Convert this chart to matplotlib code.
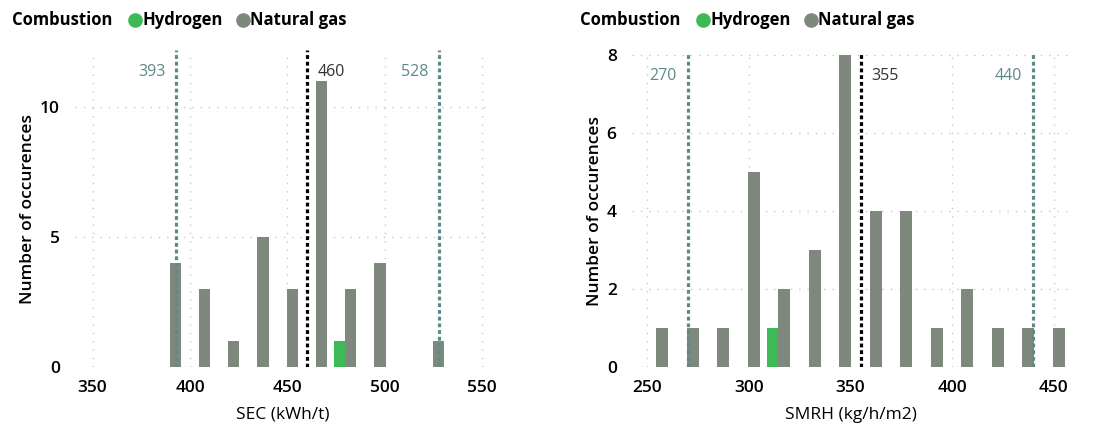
import numpy as np
import matplotlib.pyplot as plt
from matplotlib.lines import Line2D

plt.rcParams['font.family'] = ['Open Sans', 'DejaVu Sans']

# SEC histogram (bin centres, counts)
sec_bins = [392.5, 407.5, 422.5, 437.5, 452.5, 467.5, 482.5, 497.5, 512.5, 527.5]
sec_gas = [4, 3, 1, 5, 3, 11, 3, 4, 0, 1]
sec_h2 = [0, 0, 0, 0, 0, 0, 1, 0, 0, 0]
sec_lines = [393, 460, 528]
sec_ticks = [350, 400, 450, 500, 550]

# SMRH histogram
smrh_bins = [257.5, 272.5, 287.5, 302.5, 317.5, 332.5, 347.5, 362.5, 377.5,
             392.5, 407.5, 422.5, 437.5, 452.5]
smrh_gas = [1, 1, 1, 5, 2, 3, 8, 4, 4, 1, 2, 1, 1, 1]
smrh_h2 = [0, 0, 0, 0, 1, 0, 0, 0, 0, 0, 0, 0, 0, 0]
smrh_lines = [270, 355, 440]
smrh_ticks = [250, 300, 350, 400, 450]

gas_col = '#7f887c'
h2_col = '#3dba55'
teal = '#5d8a87'
W, H = 1097, 425

fig = plt.figure(figsize=(W / 100, H / 100), dpi=100)


def px(x0, y_top, x1, y_bot):
    return [x0 / W, 1 - y_bot / H, (x1 - x0) / W, (y_bot - y_top) / H]


def draw(ax, bins, gas, h2, lines, xticks, xlim, ylim, yticks, xlabel, width=5.8):
    bins = np.array(bins)
    h2 = np.array(h2)
    ax.bar(bins, gas, width=width, color=gas_col, zorder=2)
    m = h2 > 0
    ax.bar(bins[m] - width, h2[m], width=width, color=h2_col, zorder=2)
    ax.set_xticks(xticks)
    ax.set_yticks(yticks)
    ax.set_xlim(*xlim)
    ax.set_ylim(*ylim)
    ax.grid(True, color='#c9c9c9', linestyle=(0, (1, 5)), linewidth=1, zorder=0)
    for s in ax.spines.values():
        s.set_visible(False)
    ax.tick_params(length=0, labelsize=12.5)
    ax.tick_params(axis='x', pad=9)
    ax.tick_params(axis='y', pad=11)
    for lab in ax.get_xticklabels() + ax.get_yticklabels():
        lab.set_fontweight('semibold')
    for i, v in enumerate(lines):
        mid = i == 1
        ax.axvline(v, color='black' if mid else teal, linestyle=(0, (1.2, 0.9)),
                   linewidth=2.3, zorder=3)
        ax.annotate(str(v), xy=(v, 0.93), xycoords=('data', 'axes fraction'),
                    xytext=(8 if mid else -8, 0), textcoords='offset points',
                    ha='left' if mid else 'right', va='center', fontsize=11.5,
                    color='#333333' if mid else teal)
    ax.set_xlabel(xlabel, fontsize=12.5, labelpad=8)
    ax.set_ylabel('Number of occurences', fontsize=12.5, fontweight='semibold', labelpad=3)


ax1 = fig.add_axes(px(75, 50, 490, 367))
draw(ax1, sec_bins, sec_gas, sec_h2, sec_lines, sec_ticks, (341, 554), (0, 12.2),
     [0, 5, 10], 'SEC (kWh/t)')

ax2 = fig.add_axes(px(632, 54, 1070, 367))
draw(ax2, smrh_bins, smrh_gas, smrh_h2, smrh_lines, smrh_ticks, (242.6, 458), (0, 8.03),
     [0, 2, 4, 6, 8], 'SMRH (kg/h/m2)')

# legends
for x0 in (12, 580):
    y = 1 - 20 / H
    fig.text(x0 / W, y, 'Combustion', fontsize=12, fontweight='bold', va='center')
    for dx, col, lab in ((123, h2_col, 'Hydrogen'), (231, gas_col, 'Natural gas')):
        fig.add_artist(Line2D([(x0 + dx) / W], [y], marker='o', markersize=9.5,
                              color=col, linestyle='none', transform=fig.transFigure))
        fig.text((x0 + dx + 7) / W, y, lab, fontsize=12, fontweight='bold', va='center')

fig.savefig('out.png', dpi=100)
